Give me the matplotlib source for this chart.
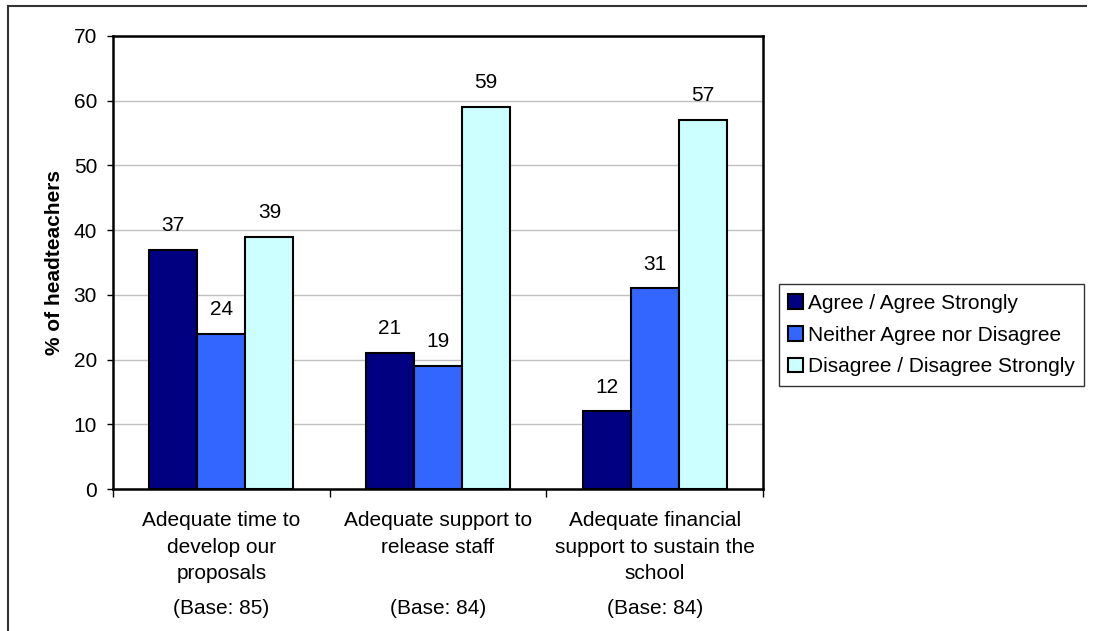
import matplotlib
matplotlib.use("Agg")
import matplotlib.pyplot as plt
from matplotlib.lines import Line2D
import numpy as np

# data
categories = ["Adequate time to\ndevelop our\nproposals",
              "Adequate support to\nrelease staff\n ",
              "Adequate financial\nsupport to sustain the\nschool"]
bases = ["(Base: 85)", "(Base: 84)", "(Base: 84)"]
series_names = ["Agree / Agree Strongly",
                "Neither Agree nor Disagree",
                "Disagree / Disagree Strongly"]
agree = [37, 21, 12]
neither = [24, 19, 31]
disagree = [39, 59, 57]
colors = ["#000080", "#3366FF", "#CCFFFF"]

plt.rcParams['font.family'] = ['Liberation Sans', 'DejaVu Sans']
plt.rcParams['font.size'] = 15

fig = plt.figure(figsize=(10.95, 6.31), dpi=100)
ax = fig.add_axes([0.1032, 0.225, 0.5936, 0.718])

x = np.arange(len(categories))
w = 0.222
for i, (vals, name, c) in enumerate(zip([agree, neither, disagree], series_names, colors)):
    pos = x + (i - 1) * w
    ax.bar(pos, vals, width=w, color=c, edgecolor="black", linewidth=1.5,
           label=name, zorder=3)
    for px, v in zip(pos, vals):
        ax.annotate(str(v), (px, v), xytext=(0, 17.5), textcoords="offset points",
                    ha="center", va="center", fontsize=15)

ax.set_xlim(-0.5, len(categories) - 0.5)
ax.set_ylim(0, 70)
ax.set_yticks(range(0, 71, 10))
ax.yaxis.grid(True, color="#C0C0C0", linewidth=1, zorder=0)
ax.set_axisbelow(True)

ax.set_xticks(x)
ax.set_xticklabels(categories)
for t in ax.get_xticklabels():
    t.set_linespacing(1.5)
ax.tick_params(axis="x", which="major", length=0, pad=16)
ax.set_xticks(np.arange(-0.5, len(categories), 1), minor=True)
ax.tick_params(axis="x", which="minor", length=6, width=1, direction="out")
ax.tick_params(axis="y", length=4.5, width=1, direction="out", pad=7)

for s in ax.spines.values():
    s.set_linewidth(1.8)
    s.set_color("black")

for xi, b in zip(x, bases):
    ax.text(xi, -0.263, b, transform=ax.get_xaxis_transform(),
            ha="center", va="center", fontsize=15)

ax.set_ylabel("% of headteachers", fontweight="bold", fontsize=15, labelpad=7)

leg = ax.legend(loc="center left", bbox_to_anchor=(0.711, 0.469),
                bbox_transform=fig.transFigure, frameon=True, fancybox=False,
                edgecolor="black", handlelength=0.7, handleheight=0.7,
                handletextpad=0.25, labelspacing=0.62, borderpad=0.45,
                borderaxespad=0, fontsize=15)
leg.get_frame().set_linewidth(1)

# outer frame (only top and left visible in the original)
fig.add_artist(Line2D([8 / 1095, 8 / 1095], [0, 1 - 6 / 631],
                      transform=fig.transFigure, color="#333333", linewidth=1.5))
fig.add_artist(Line2D([8 / 1095, 1086 / 1095], [1 - 6 / 631, 1 - 6 / 631],
                      transform=fig.transFigure, color="#333333", linewidth=1.5))

fig.savefig("out.png", dpi=100)
